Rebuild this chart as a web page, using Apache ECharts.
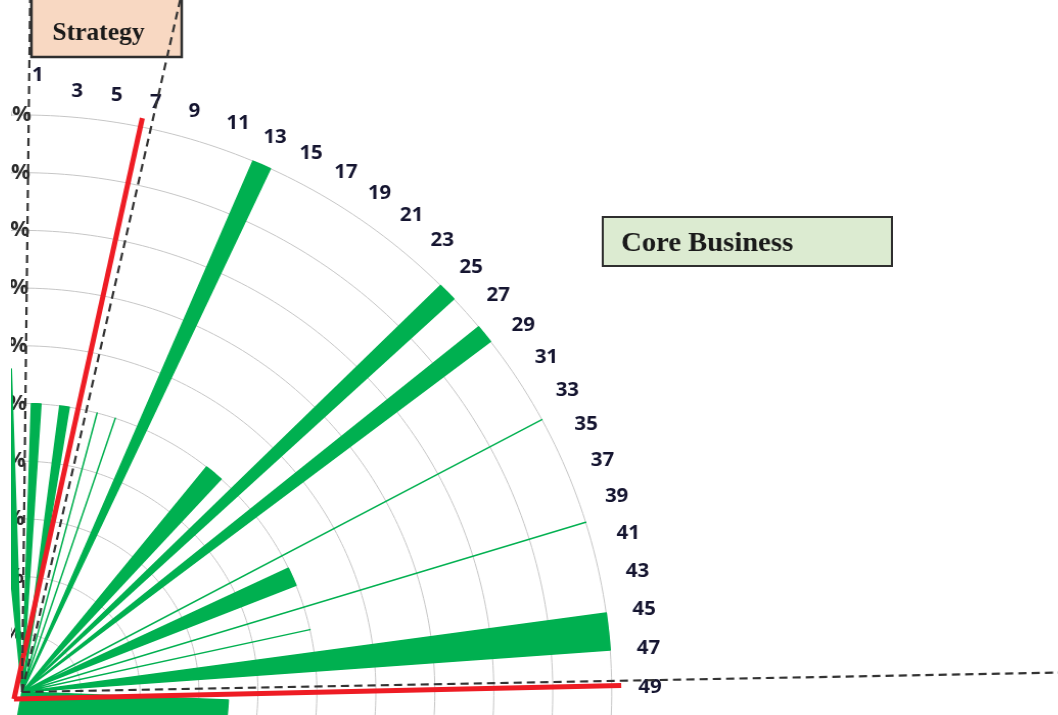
<!DOCTYPE html>
<html>
<head>
<meta charset="utf-8"/>
<script src="https://cdn.jsdelivr.net/npm/echarts@6/dist/echarts.min.js"></script>
<style>
body{margin:0;background:#fff;}
#wrap{position:absolute;left:11px;top:0;width:1047px;height:715px;overflow:hidden;}
#main{width:1025px;height:715px;transform:scaleX(1.022);transform-origin:0 0;}
</style>
</head>
<body>
<div id="wrap"><div id="main"></div></div>
<script>
// radar spokes: two per category, odd category labels every 4th spoke
var spokeCount = 390;
var tickLabels = ['1','3','5','7','9','11','13','15','17','19','21','23','25',
                  '27','29','31','33','35','37','39','41','43','45','47','49'];

// green series, given as runs of spokes: first spoke, last spoke, value
var greenFrom  = [383, 1,   7,   15,  19,  24, 41,  48, 54, 66, 69,  78, 83,  88, 99];
var greenTo    = [387, 3,   9,   15,  19,  26, 45,  50, 56, 66, 73,  78, 83,  92, 205];
var greenValue = [0.56,0.5, 0.5, 0.5, 0.5, 1,  0.5, 1,  1,  1,  0.5, 1,  0.5, 1,  0.35];

// hand drawn guide lines: angle (deg clockwise from top), length (in radius units)
var redAngle   = [12.2, 88.7];
var redLength  = [1.03, 1.03];
var dashAngle  = [0.65, 12.6, 88.9];
var dashLength = [1.25, 1.3, 1.9];

var cx = 10.8, cy = 692, R = 577;
var GREEN = '#00b050';

var green = [];
for (var i = 0; i < spokeCount; i++) green.push(0);
for (var k = 0; k < greenFrom.length; k++) {
  for (var j = greenFrom[k]; j <= greenTo[k]; j++) {
    green[(spokeCount - j) % spokeCount] = greenValue[k];
  }
}

// radar goes counter clockwise, so spokes are listed backwards
var indicator = [];
for (var i = 0; i < spokeCount; i++) {
  var j = (spokeCount - i) % spokeCount;
  var name = (j % 4 === 0 && j / 4 < tickLabels.length) ? tickLabels[j / 4] : '';
  var ind = {name: name, min: 0, max: 1};
  if (j === 0) {
    ind.nameGap = 40;
    ind.axisLabel = {
      show: true, showMinLabel: false, margin: 0,
      color: '#2a2a2a', fontSize: 21, fontFamily: 'Open Sans', fontWeight: 700,
      formatter: function (v) { return Math.round(v * 100) + '%'; }
    };
  }
  indicator.push(ind);
}

var series = [{
  type: 'radar',
  symbol: 'none',
  silent: true,
  z: 2,
  lineStyle: {color: GREEN, width: 1.5},
  areaStyle: {color: GREEN, opacity: 1},
  data: [{value: green}]
}];
for (var k = 0; k < redAngle.length; k++) {
  series.push({
    type: 'line', coordinateSystem: 'polar', polarIndex: 1,
    symbol: 'none', clip: false, silent: true, z: 3,
    lineStyle: {color: '#ee1c24', width: 5},
    data: [[0, redAngle[k]], [redLength[k], redAngle[k]]]
  });
}
for (var k = 0; k < dashAngle.length; k++) {
  series.push({
    type: 'line', coordinateSystem: 'polar', polarIndex: 0,
    symbol: 'none', clip: false, silent: true, z: 4,
    lineStyle: {color: '#333333', width: 2.2, type: [8, 5]},
    data: [[0, dashAngle[k]], [dashLength[k], dashAngle[k]]]
  });
}

var myChart = echarts.init(document.getElementById('main'));
myChart.setOption({
  animation: false,
  radar: {
    center: [cx, cy],
    radius: R,
    startAngle: 89.1,
    splitNumber: 10,
    shape: 'polygon',
    nameGap: 26,
    indicator: indicator,
    axisName: {color: '#151530', fontSize: 20, fontFamily: 'Open Sans', fontWeight: 700},
    axisLine: {show: false},
    axisTick: {show: false},
    splitLine: {lineStyle: {color: '#c6c6c6', width: 1}},
    splitArea: {show: false}
  },
  // guide lines live on polar systems scaled 0..2 so they may run past the outer ring
  polar: [
    {center: [cx, cy], radius: 2 * R},
    {center: [2.9, 699], radius: 2 * R}
  ],
  angleAxis: [
    {polarIndex: 0, type: 'value', min: 0, max: 360, startAngle: 90, clockwise: true, show: false},
    {polarIndex: 1, type: 'value', min: 0, max: 360, startAngle: 90, clockwise: true, show: false}
  ],
  radiusAxis: [
    {polarIndex: 0, type: 'value', min: 0, max: 2, show: false},
    {polarIndex: 1, type: 'value', min: 0, max: 2, show: false}
  ],
  graphic: [
    {type: 'rect', z: 0, shape: {x: 20, y: -10, width: 147, height: 67},
     style: {fill: '#f8d8c2', stroke: '#2e2e2e', lineWidth: 2.5}},
    {type: 'text', z: 1, x: 85.6, y: 34,
     style: {text: 'Strategy', fontFamily: 'Liberation Serif', fontWeight: 'bold', fontSize: 25,
             fill: '#1a1a1a', textAlign: 'center', textVerticalAlign: 'middle', align: 'center', verticalAlign: 'middle'}},
    {type: 'rect', z: 0, shape: {x: 579, y: 217, width: 283, height: 49},
     style: {fill: '#dcebd1', stroke: '#2e2e2e', lineWidth: 2}},
    {type: 'text', z: 1, x: 597, y: 244,
     style: {text: 'Core Business', fontFamily: 'Liberation Serif', fontWeight: 'bold', fontSize: 28,
             fill: '#1a1a1a', textAlign: 'left', textVerticalAlign: 'middle', align: 'left', verticalAlign: 'middle'}}
  ],
  series: series
});
</script>
</body>
</html>
